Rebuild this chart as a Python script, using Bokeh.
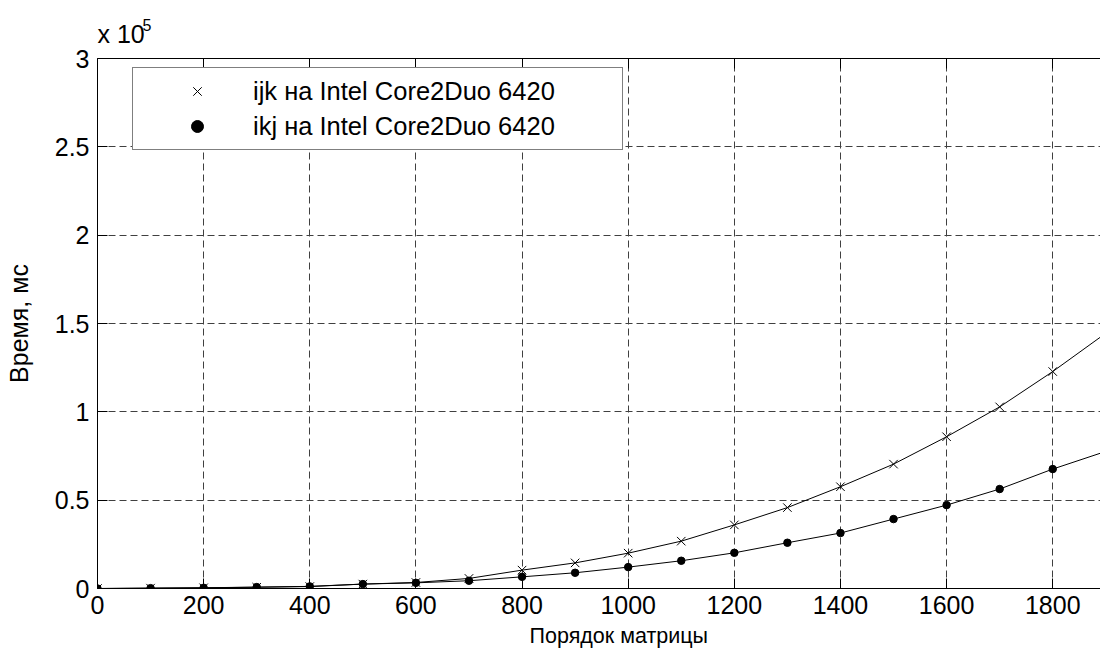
from bokeh.plotting import figure
from bokeh.models import Range1d, FixedTicker, LinearAxis, Legend, LegendItem, Title, ColumnDataSource
from bokeh.embed import file_html
from bokeh.resources import INLINE

# ---- data ----
order = [0, 100, 200, 300, 400, 500, 600, 700, 800, 900, 1000,
         1100, 1200, 1300, 1400, 1500, 1600, 1700, 1800, 1900]
ijk_ms = [0, 200, 400, 700, 1100, 2500, 3400, 5700, 10400, 14500, 20000,
          26800, 36000, 45800, 57600, 70400, 85900, 102800, 122800, 144500]
ikj_ms = [0, 200, 400, 800, 1200, 2500, 3200, 4400, 6600, 8900, 12100,
          15700, 20200, 25900, 31400, 39300, 47200, 56300, 67600, 77600]
series_labels = ["ijk на Intel Core2Duo 6420", "ikj на Intel Core2Duo 6420"]
x_ticks = [0, 200, 400, 600, 800, 1000, 1200, 1400, 1600, 1800]
y_ticks = [0, 50000, 100000, 150000, 200000, 250000, 300000]
y_tick_labels = ["0", "0.5", "1", "1.5", "2", "2.5", "3"]
x_label = "Порядок матрицы"
y_label = "Время, мс"
exp_base = "x 10"
exp_power = "5"

FONT = "Liberation Sans"
TICK_FS = "25px"

src = ColumnDataSource(data=dict(n=order, ijk=ijk_ms, ikj=ikj_ms))

p = figure(width=1100, height=657, output_backend="svg", toolbar_location=None,
           x_range=Range1d(0, 1890), y_range=Range1d(0, 300000),
           min_border_left=97, min_border_right=0, min_border_top=58, min_border_bottom=69,
           y_axis_label=y_label)
p.background_fill_color = "white"
p.border_fill_color = "white"
p.outline_line_color = None

# axes
for ax in [p.xaxis[0], p.yaxis[0]]:
    ax.axis_line_color = "black"
    ax.axis_line_width = 1
    ax.major_tick_line_color = "black"
    ax.major_tick_in = 10
    ax.major_tick_out = 0
    ax.minor_tick_line_color = None
    ax.major_label_text_font = FONT
    ax.major_label_text_font_size = TICK_FS
    ax.major_label_text_color = "black"
    ax.axis_label_text_font = FONT
    ax.axis_label_text_font_style = "normal"
    ax.axis_label_text_color = "black"

p.xaxis[0].ticker = FixedTicker(ticks=x_ticks)
p.xaxis[0].major_label_standoff = 7
p.yaxis[0].ticker = FixedTicker(ticks=y_ticks)
p.yaxis[0].major_label_overrides = {t: s for t, s in zip(y_ticks, y_tick_labels)}
p.yaxis[0].major_label_standoff = 8
p.yaxis[0].axis_label_standoff = 19
p.yaxis[0].axis_label_text_font_size = "25px"

# top border with inward ticks, no labels
top_axis = LinearAxis(ticker=FixedTicker(ticks=x_ticks))
top_axis.axis_line_color = "black"
top_axis.major_tick_line_color = "black"
top_axis.major_tick_in = 10
top_axis.major_tick_out = 0
top_axis.minor_tick_line_color = None
top_axis.major_label_text_font_size = "1px"
top_axis.major_label_text_color = None
top_axis.major_label_standoff = 0
p.add_layout(top_axis, "above")

# x axis label as a positioned title below the plot
p.add_layout(Title(text=x_label, align="left", offset=432, standoff=15, vertical_align="top",
                   text_font=FONT, text_font_size="21.5px", text_font_style="normal",
                   text_color="black"), "below")

# exponent "x 10^5" above the y axis
p.add_layout(Title(text=exp_base, align="left", offset=0, standoff=22,
                   text_font=FONT, text_font_size="25px", text_font_style="normal",
                   text_color="black"), "above")
p.add_layout(Title(text=exp_power, align="left", offset=45, standoff=-48,
                   text_font=FONT, text_font_size="16px", text_font_style="normal",
                   text_color="black"), "above")

# grid
p.xgrid.ticker = FixedTicker(ticks=x_ticks)
p.ygrid.ticker = FixedTicker(ticks=y_ticks)
for g in [p.xgrid[0], p.ygrid[0]]:
    g.grid_line_color = "#404040"
    g.grid_line_width = 1
    g.grid_line_dash = "7 4"

# series
p.line("n", "ijk", source=src, line_color="black", line_width=1)
p.line("n", "ikj", source=src, line_color="black", line_width=1)
r1 = p.scatter("n", "ijk", source=src, marker="x", size=12, line_color="black", line_width=1)
r2 = p.scatter("n", "ikj", source=src, marker="circle", size=7.5, fill_color="black", line_color="black")

legend = Legend(items=[LegendItem(label=series_labels[0], renderers=[r1]),
                       LegendItem(label=series_labels[1], renderers=[r2])],
                location=(35, 438), padding=8, margin=0, spacing=5,
                glyph_width=112, glyph_height=30, label_height=30, label_width=361,
                label_standoff=0)
legend.label_text_font = FONT
legend.label_text_font_size = "25.5px"
legend.label_text_color = "black"
legend.border_line_color = "black"
legend.border_line_width = 1
legend.background_fill_color = "white"
legend.background_fill_alpha = 1
p.add_layout(legend)

open("out.html", "w").write(file_html(p, INLINE))
